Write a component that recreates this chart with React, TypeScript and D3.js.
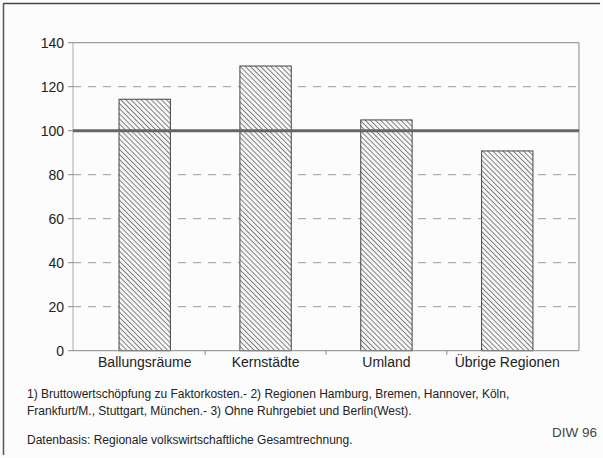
import React from "react";
import * as d3 from "d3";

const categories = ["Ballungsräume", "Kernstädte", "Umland", "Übrige Regionen"];
const values = [114.3, 129.4, 104.9, 90.8];
const yTicks = [0, 20, 40, 60, 80, 100, 120, 140];
const referenceValue = 100;
const footnotes = [
  "1) Bruttowertschöpfung zu Faktorkosten.- 2) Regionen Hamburg, Bremen, Hannover, Köln,",
  "Frankfurt/M., Stuttgart, München.- 3) Ohne Ruhrgebiet und Berlin(West).",
];
const source = "Datenbasis: Regionale volkswirtschaftliche Gesamtrechnung.";
const credit = "DIW 96";

const W = 603;
const H = 458;
const plot = { left: 73, right: 579, top: 42.7, bottom: 350.7 };
const font = "'Liberation Sans', Arial, sans-serif";

const App = () => {
  //scales
  const x = d3
    .scaleBand<string>()
    .domain(categories)
    .range([84, 568])
    .paddingInner(0.575)
    .paddingOuter(0.29);
  const y = d3
    .scaleLinear()
    .domain([0, 140])
    .range([plot.bottom, plot.top]);

  const step = x.step();
  const boundaries = categories.slice(1).map(c => (x(c) as number) - (step - x.bandwidth()) / 2);

  return (
    <div style={{ position: "fixed", left: 0, top: 0 }}>
      <svg width={W} height={H} style={{ display: "block", background: "#fcfcfc" }}>
        <defs>
          <pattern id="hatch" width="3.6" height="3.6" patternUnits="userSpaceOnUse" patternTransform="rotate(-45)">
            <rect width="3.6" height="3.6" fill="#f6f6f6" />
            <line x1="0" y1="0" x2="0" y2="3.6" stroke="#3a3a3a" strokeWidth="1.2" />
          </pattern>
        </defs>

        {/* outer frame: top and left only */}
        <line x1={3} y1={3.5} x2={600} y2={3.5} stroke="#444" strokeWidth={1.5} />
        <line x1={3.5} y1={3} x2={3.5} y2={455} stroke="#555" strokeWidth={1.5} />

        {/* gridlines */}
        {yTicks.filter(t => t > 0 && t < 140).map(t => (
          <line key={t} x1={plot.left} x2={plot.right} y1={y(t)} y2={y(t)}
            stroke="#9a9a9a" strokeWidth={1} strokeDasharray="8,7" />
        ))}
        <line x1={plot.left} x2={plot.right} y1={y(140)} y2={y(140)} stroke="#888" strokeWidth={1} />
        <line x1={plot.right} x2={plot.right} y1={plot.top} y2={plot.bottom} stroke="#888" strokeWidth={1} />

        {/* y axis */}
        <line x1={plot.left} x2={plot.left} y1={plot.top} y2={plot.bottom} stroke="#aaa" strokeWidth={1} />
        {yTicks.map(t => (
          <g key={t}>
            <line x1={plot.left - 5} x2={plot.left} y1={y(t)} y2={y(t)} stroke="#888" />
            <text x={64} y={y(t)} dy="0.36em" textAnchor="end" fontFamily={font} fontSize={14} fill="#222">
              {t}
            </text>
          </g>
        ))}

        {/* bars */}
        {categories.map((c, i) => (
          <rect key={c} x={x(c)} y={y(values[i])} width={x.bandwidth()} height={y(0) - y(values[i])}
            fill="url(#hatch)" stroke="#444" strokeWidth={1} />
        ))}

        {/* x axis */}
        <line x1={plot.left} x2={plot.right} y1={plot.bottom} y2={plot.bottom} stroke="#888" strokeWidth={1} />
        {boundaries.map((b, i) => (
          <line key={i} x1={b} x2={b} y1={plot.bottom} y2={plot.bottom + 4} stroke="#888" />
        ))}
        {categories.map(c => (
          <text key={c} x={(x(c) as number) + x.bandwidth() / 2} y={367} textAnchor="middle"
            fontFamily={font} fontSize={14} fill="#222">
            {c}
          </text>
        ))}

        {/* reference line at 100 */}
        <line x1={plot.left} x2={plot.right} y1={y(referenceValue)} y2={y(referenceValue)}
          stroke="#666" strokeWidth={3} />

        {/* notes */}
        {footnotes.map((f, i) => (
          <text key={i} x={27} y={398 + i * 17} fontFamily={font} fontSize={12} fill="#222">
            {f}
          </text>
        ))}
        <text x={27} y={444} fontFamily={font} fontSize={12} fill="#222">{source}</text>
        <text x={597} y={437} textAnchor="end" fontFamily={font} fontSize={13.5} fill="#444">{credit}</text>
      </svg>
    </div>
  );
};

export default App;
